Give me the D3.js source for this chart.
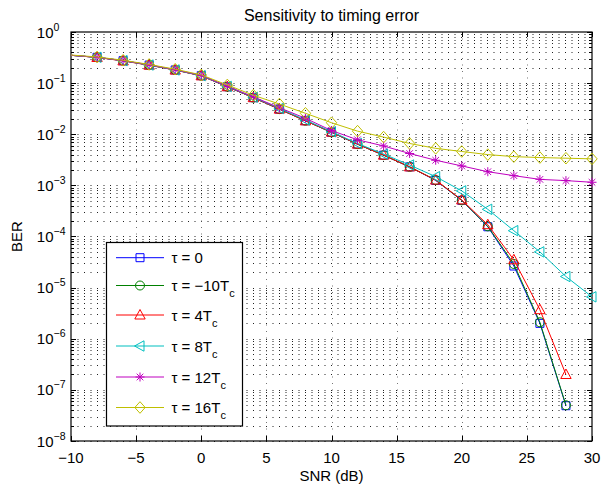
<!DOCTYPE html>
<html>
<head>
<meta charset="utf-8">
<script src="https://cdn.jsdelivr.net/npm/d3@7"></script>
<style>
  body { margin: 0; background: #fff; }
  text { font-family: "Liberation Sans", Arial, sans-serif; fill: #000; }
</style>
</head>
<body>
<div id="chart"></div>
<script>
const snr = [-10, -8, -6, -4, -2, 0, 2, 4, 6, 8, 10, 12, 14, 16, 18, 20, 22, 24, 26, 28, 30];

const berTau0 = [0.35, 0.32, 0.275, 0.226, 0.181, 0.140, 0.085, 0.052, 0.031, 0.0184, 0.0109, 0.0064, 0.0039, 0.0023, 0.00125, 5.1e-4, 1.55e-4, 2.65e-5, 2.0e-6, 4.9e-8, null];
const berTauM10 = [0.35, 0.32, 0.275, 0.226, 0.181, 0.140, 0.085, 0.052, 0.031, 0.0184, 0.0109, 0.0064, 0.0039, 0.0023, 0.00127, 5.1e-4, 1.58e-4, 2.9e-5, 2.1e-6, 5.0e-8, null];
const berTau4 = [0.35, 0.318, 0.272, 0.224, 0.180, 0.139, 0.085, 0.052, 0.031, 0.0183, 0.0110, 0.0064, 0.0039, 0.0023, 0.00127, 5.2e-4, 1.7e-4, 3.5e-5, 3.7e-6, 2.0e-7, null];
const berTau8 = [0.35, 0.32, 0.275, 0.226, 0.181, 0.140, 0.086, 0.053, 0.032, 0.0190, 0.0112, 0.0066, 0.0041, 0.0025, 0.00148, 7.8e-4, 3.4e-4, 1.3e-4, 5.0e-5, 1.65e-5, 6.6e-6];
const berTau12 = [0.35, 0.32, 0.276, 0.228, 0.183, 0.142, 0.087, 0.054, 0.033, 0.0205, 0.0118, 0.0078, 0.0059, 0.0042, 0.0031, 0.0024, 0.00185, 0.00155, 0.00131, 0.00124, 0.00115];
const berTau16 = [0.355, 0.325, 0.28, 0.232, 0.187, 0.145, 0.092, 0.058, 0.039, 0.0257, 0.0168, 0.0115, 0.0088, 0.0066, 0.0053, 0.0046, 0.0040, 0.00365, 0.0035, 0.0034, 0.0033];

const legendLabels = ["τ = 0", "τ = −10T", "τ = 4T", "τ = 8T", "τ = 12T", "τ = 16T"];
const legendSubs = ["", "c", "c", "c", "c", "c"];
const colors = ["#0000ff", "#008000", "#ff0000", "#00bfbf", "#bf00bf", "#bfbf00"];
const markers = ["square", "circle", "triangleUp", "triangleLeft", "star", "diamond"];
const xTicks = [-10, -5, 0, 5, 10, 15, 20, 25, 30];
const yExponents = [0, -1, -2, -3, -4, -5, -6, -7, -8];

const series = [berTau0, berTauM10, berTau4, berTau8, berTau12, berTau16].map((vals, i) => ({
  name: legendLabels[i],
  color: colors[i],
  marker: markers[i],
  points: snr.map((s, j) => ({ snr: s, ber: vals[j] }))
}));

const W = 601, H = 485;
const margin = { top: 32, right: 9, bottom: 44, left: 71 };

const svg = d3.select("#chart").append("svg")
  .attr("width", W)
  .attr("height", H);

const x = d3.scaleLinear().domain([-10, 30]).range([margin.left, W - margin.right]);
const y = d3.scaleLog().domain([1e-8, 1]).range([H - margin.bottom, margin.top]);

const x0 = x.range()[0], x1 = x.range()[1];
const y0 = y.range()[0], y1 = y.range()[1];

// grid
const minorVals = [];
yExponents.forEach(e => {
  if (e === 0) return;
  for (let k = 1; k <= 9; k++) minorVals.push(k * Math.pow(10, e));
});

svg.append("g")
  .selectAll("line")
  .data(minorVals)
  .enter().append("line")
  .attr("x1", x0).attr("x2", x1)
  .attr("y1", d => Math.round(y(d)) + 0.5)
  .attr("y2", d => Math.round(y(d)) + 0.5)
  .attr("stroke", "#222")
  .attr("stroke-width", 1)
  .attr("stroke-dasharray", "1,5.5");

svg.append("g")
  .selectAll("line")
  .data(xTicks.slice(1, -1))
  .enter().append("line")
  .attr("x1", d => Math.round(x(d)) + 0.5)
  .attr("x2", d => Math.round(x(d)) + 0.5)
  .attr("y1", y1).attr("y2", y0)
  .attr("stroke", "#777")
  .attr("stroke-width", 1)
  .attr("stroke-dasharray", "1,5.5");

// ticks
const tickG = svg.append("g").attr("stroke", "#000").attr("stroke-width", 1);
xTicks.forEach(t => {
  const px = Math.round(x(t)) + 0.5;
  tickG.append("line").attr("x1", px).attr("x2", px).attr("y1", y0).attr("y2", y0 - 5);
  tickG.append("line").attr("x1", px).attr("x2", px).attr("y1", y1).attr("y2", y1 + 5);
});
minorVals.concat([1]).forEach(v => {
  const py = Math.round(y(v)) + 0.5;
  const major = Math.abs(Math.log10(v) - Math.round(Math.log10(v))) < 1e-9;
  const len = major ? 5 : 3;
  tickG.append("line").attr("x1", x0).attr("x2", x0 + len).attr("y1", py).attr("y2", py);
  tickG.append("line").attr("x1", x1).attr("x2", x1 - len).attr("y1", py).attr("y2", py);
});

// box
svg.append("rect")
  .attr("x", x0).attr("y", y1)
  .attr("width", x1 - x0).attr("height", y0 - y1)
  .attr("fill", "none")
  .attr("stroke", "#000")
  .attr("stroke-width", 1.2);

// tick labels
svg.append("g")
  .selectAll("text")
  .data(xTicks)
  .enter().append("text")
  .attr("x", d => x(d))
  .attr("y", 463)
  .attr("text-anchor", "middle")
  .attr("font-size", "15px")
  .text(d => d < 0 ? "−" + Math.abs(d) : d);

const yLab = svg.append("g")
  .selectAll("g")
  .data(yExponents)
  .enter().append("g");
yLab.append("text")
  .attr("x", 53.5)
  .attr("y", d => y(Math.pow(10, d)) + 5.5)
  .attr("text-anchor", "end")
  .attr("font-size", "15px")
  .text("10");
yLab.append("text")
  .attr("x", 53.5)
  .attr("y", d => y(Math.pow(10, d)) - 1.5)
  .attr("font-size", "10.5px")
  .text(d => d < 0 ? "−" + Math.abs(d) : d);

// titles
svg.append("text")
  .attr("x", (x0 + x1) / 2)
  .attr("y", 21)
  .attr("text-anchor", "middle")
  .attr("font-size", "16px")
  .text("Sensitivity to timing error");

svg.append("text")
  .attr("x", (x0 + x1) / 2)
  .attr("y", 481)
  .attr("text-anchor", "middle")
  .attr("font-size", "15px")
  .text("SNR (dB)");

svg.append("text")
  .attr("transform", `translate(22,${(y0 + y1) / 2}) rotate(-90)`)
  .attr("text-anchor", "middle")
  .attr("font-size", "15px")
  .text("BER");

// markers
function markerPath(type) {
  switch (type) {
    case "square": return "M-4,-4H4V4H-4Z";
    case "circle": return "M-4.5,0A4.5,4.5 0 1,0 4.5,0A4.5,4.5 0 1,0 -4.5,0Z";
    case "triangleUp": return "M0,-5.5L5.2,4L-5.2,4Z";
    case "triangleLeft": return "M-5.5,0L4,-5.2L4,5.2Z";
    case "star": return "M-4.5,0H4.5M0,-4.5V4.5M-3.3,-3.3L3.3,3.3M-3.3,3.3L3.3,-3.3";
    case "diamond": return "M0,-5.8L5.2,0L0,5.8L-5.2,0Z";
  }
}

const line = d3.line()
  .defined(d => d.ber != null)
  .x(d => x(d.snr))
  .y(d => y(d.ber));

const plot = svg.append("g");
series.forEach(s => {
  plot.append("path")
    .datum(s.points)
    .attr("fill", "none")
    .attr("stroke", s.color)
    .attr("stroke-width", 1)
    .attr("d", line);

  plot.append("g")
    .selectAll("path")
    .data(s.points.filter(d => d.ber != null && d.snr > -10))
    .enter().append("path")
    .attr("transform", d => `translate(${x(d.snr)},${y(d.ber)})`)
    .attr("d", markerPath(s.marker))
    .attr("fill", "none")
    .attr("stroke", s.color)
    .attr("stroke-width", 1);
});

// legend
const legendRowY = [257.7, 285.5, 315, 346, 377, 407.5];
const legend = svg.append("g");
legend.append("rect")
  .attr("x", 106.5).attr("y", 242.5)
  .attr("width", 136).attr("height", 183.5)
  .attr("fill", "#fff")
  .attr("stroke", "#000")
  .attr("stroke-width", 1.2);

series.forEach((s, i) => {
  const ly = legendRowY[i];
  legend.append("line")
    .attr("x1", 116).attr("x2", 164)
    .attr("y1", ly).attr("y2", ly)
    .attr("stroke", s.color)
    .attr("stroke-width", 1);
  legend.append("path")
    .attr("transform", `translate(140,${ly})`)
    .attr("d", markerPath(s.marker))
    .attr("fill", "none")
    .attr("stroke", s.color)
    .attr("stroke-width", 1);
  const t = legend.append("text")
    .attr("x", 171.5)
    .attr("y", ly + 5.5)
    .attr("font-size", "15px")
    .text(s.name);
  if (legendSubs[i]) {
    t.append("tspan")
      .attr("font-size", "11px")
      .attr("dy", 6)
      .text(legendSubs[i]);
  }
});
</script>
</body>
</html>
